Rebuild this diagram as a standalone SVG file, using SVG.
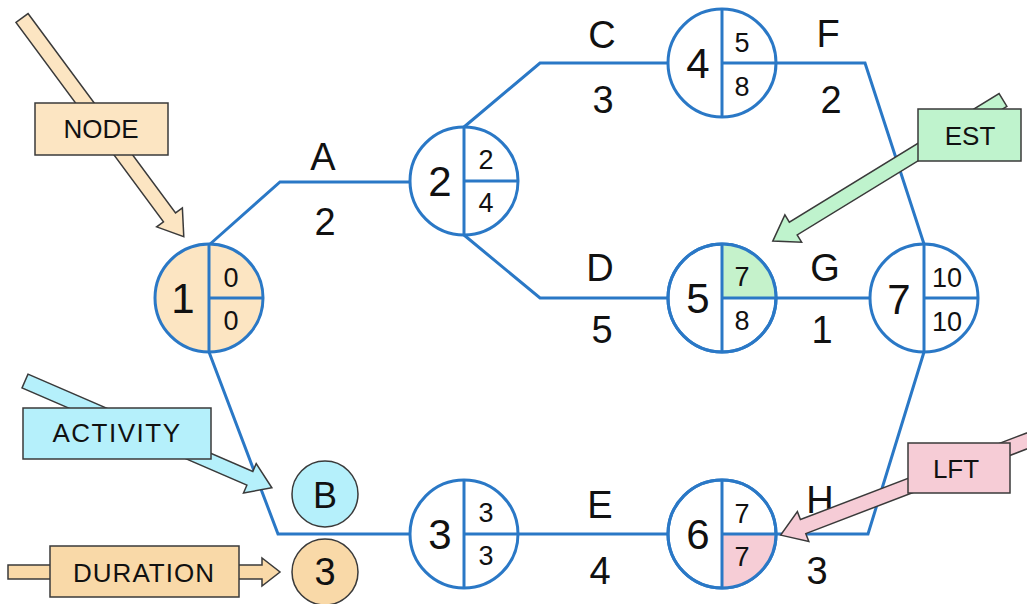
<svg xmlns="http://www.w3.org/2000/svg" width="1027" height="604" viewBox="0 0 1027 604">
<style>
.edge{fill:none;stroke:#2a78c6;stroke-width:3;stroke-linejoin:miter}
.nd{fill:#ffffff;stroke:#2a78c6;stroke-width:3}
.dv{stroke:#2a78c6;stroke-width:3}
text{font-family:"Liberation Sans",Arial,sans-serif;fill:#111;text-anchor:middle}
.lbl{font-size:38px}
.big{font-size:42px}
.sm{font-size:27px}
.box{stroke:#3a3a3a;stroke-width:1.5}
.ca{stroke:#3a3a3a;stroke-width:1.5;stroke-linejoin:miter}
.bt{font-size:26px}
</style>
<rect width="1027" height="604" fill="#ffffff"/>
<g id="connectors">
  <polyline class="edge" points="209,245 280,182 410,182"/>
  <polyline class="edge" points="464,127 540,63 668,63"/>
  <polyline class="edge" points="464,235 540,298 668,298"/>
  <polyline class="edge" points="776,63 865,63 924,244"/>
  <polyline class="edge" points="776,298 870,298"/>
  <polyline class="edge" points="209,352 278,534 410,534"/>
  <polyline class="edge" points="518,534 668,534"/>
  <polyline class="edge" points="776,534 868,534 924,352"/>
  <text class="lbl" x="323" y="170">A</text>
  <text class="lbl" x="325" y="235">2</text>
  <text class="lbl" x="602" y="48">C</text>
  <text class="lbl" x="603" y="113">3</text>
  <text class="lbl" x="600" y="281">D</text>
  <text class="lbl" x="602" y="343">5</text>
  <text class="lbl" x="828" y="47">F</text>
  <text class="lbl" x="831" y="113">2</text>
  <text class="lbl" x="825" y="281">G</text>
  <text class="lbl" x="822" y="343">1</text>
  <text class="lbl" x="600" y="518">E</text>
  <text class="lbl" x="600" y="584">4</text>
  <text class="lbl" x="820" y="513">H</text>
  <text class="lbl" x="817" y="584">3</text>
</g>
<g id="node1">
  <circle class="nd" cx="209" cy="298" r="54" style="fill:#fce5c2"/>
  <line class="dv" x1="209" y1="244" x2="209" y2="352"/>
  <line class="dv" x1="209" y1="298" x2="263" y2="298"/>
  <text class="big" x="183" y="313">1</text>
  <text class="sm" x="231" y="287">0</text>
  <text class="sm" x="231" y="330">0</text>
</g>
<g id="node2">
  <circle class="nd" cx="464" cy="181" r="54"/>
  <line class="dv" x1="464" y1="127" x2="464" y2="235"/>
  <line class="dv" x1="464" y1="181" x2="518" y2="181"/>
  <text class="big" x="440" y="196">2</text>
  <text class="sm" x="486" y="169">2</text>
  <text class="sm" x="486" y="212">4</text>
</g>
<g id="node4">
  <circle class="nd" cx="722" cy="63" r="54"/>
  <line class="dv" x1="722" y1="9" x2="722" y2="117"/>
  <line class="dv" x1="722" y1="63" x2="776" y2="63"/>
  <text class="big" x="698" y="78">4</text>
  <text class="sm" x="742" y="52">5</text>
  <text class="sm" x="742" y="96">8</text>
</g>
<g id="node5">
  <circle class="nd" cx="722" cy="298" r="54"/>
  <path d="M722,298 L722,244 A54,54 0 0 1 776,298 Z" fill="#c5f2cb"/>
  <circle cx="722" cy="298" r="54" fill="none" stroke="#2a78c6" stroke-width="3"/>
  <line class="dv" x1="722" y1="244" x2="722" y2="352"/>
  <line class="dv" x1="722" y1="298" x2="776" y2="298"/>
  <text class="big" x="698" y="313">5</text>
  <text class="sm" x="742" y="286">7</text>
  <text class="sm" x="742" y="330">8</text>
</g>
<g id="node7">
  <circle class="nd" cx="924" cy="298" r="54"/>
  <line class="dv" x1="924" y1="244" x2="924" y2="352"/>
  <line class="dv" x1="924" y1="298" x2="978" y2="298"/>
  <text class="big" x="899" y="314">7</text>
  <text class="sm" x="947" y="287">10</text>
  <text class="sm" x="947" y="331">10</text>
</g>
<g id="node3">
  <circle class="nd" cx="464" cy="534" r="54"/>
  <line class="dv" x1="464" y1="480" x2="464" y2="588"/>
  <line class="dv" x1="464" y1="534" x2="518" y2="534"/>
  <text class="big" x="440" y="549">3</text>
  <text class="sm" x="486" y="522">3</text>
  <text class="sm" x="486" y="565">3</text>
</g>
<g id="node6">
  <circle class="nd" cx="722" cy="534" r="54"/>
  <path d="M722,534 L776,534 A54,54 0 0 1 722,588 Z" fill="#f6cdd6"/>
  <circle cx="722" cy="534" r="54" fill="none" stroke="#2a78c6" stroke-width="3"/>
  <line class="dv" x1="722" y1="480" x2="722" y2="588"/>
  <line class="dv" x1="722" y1="534" x2="776" y2="534"/>
  <text class="big" x="698" y="549">6</text>
  <text class="sm" x="742" y="523">7</text>
  <text class="sm" x="742" y="566">7</text>
</g>
<g id="callout-node">
  <path class="ca" fill="#fce5c2" d="M0,-7.5 H248 V-16 L272,0 L248,16 V7.5 H0 Z" transform="translate(22,18) rotate(53.5)"/>
  <rect class="box" x="35" y="103" width="133" height="52" fill="#fce5c2"/>
  <text class="bt" x="101" y="138">NODE</text>
</g>
<g id="callout-activity">
  <path class="ca" fill="#b5f0fb" d="M0,-7.5 H245 V-16 L269,0 L245,16 V7.5 H0 Z" transform="translate(25,381) rotate(23.4)"/>
  <rect class="box" x="23" y="408" width="188" height="51" fill="#b5f0fb"/>
  <text class="bt" x="117" y="442" letter-spacing="1.5">ACTIVITY</text>
  <circle class="box" cx="325" cy="494" r="33" fill="#b5f0fb"/>
  <text style="font-size:36px" x="325" y="508">B</text>
</g>
<g id="callout-duration">
  <path class="ca" fill="#f9d9a8" d="M0,-7 H254 V-14 L272,0 L254,14 V7 H0 Z" transform="translate(8,572)"/>
  <rect class="box" x="50" y="546" width="189" height="51" fill="#f9d9a8"/>
  <text class="bt" x="144" y="582" letter-spacing="1">DURATION</text>
  <circle class="box" cx="325" cy="572" r="33" fill="#f9d9a8"/>
  <text style="font-size:38px" x="325" y="585">3</text>
</g>
<g id="callout-est">
  <path class="ca" fill="#bff3cd" d="M0,-7.5 H246 V-16 L270,0 L246,16 V7.5 H0 Z" transform="translate(1003,100) rotate(148.5)"/>
  <rect class="box" x="918" y="109" width="103" height="52" fill="#bff3cd"/>
  <text class="bt" x="970" y="145">EST</text>
</g>
<g id="callout-lft">
  <path class="ca" fill="#f6ccd6" d="M0,-7.5 H259 V-16 L283,0 L259,16 V7.5 H0 Z" transform="translate(1045,434) rotate(159.06)"/>
  <rect class="box" x="908" y="443" width="102" height="50" fill="#f6ccd6"/>
  <text class="bt" x="956" y="478">LFT</text>
</g>
</svg>
